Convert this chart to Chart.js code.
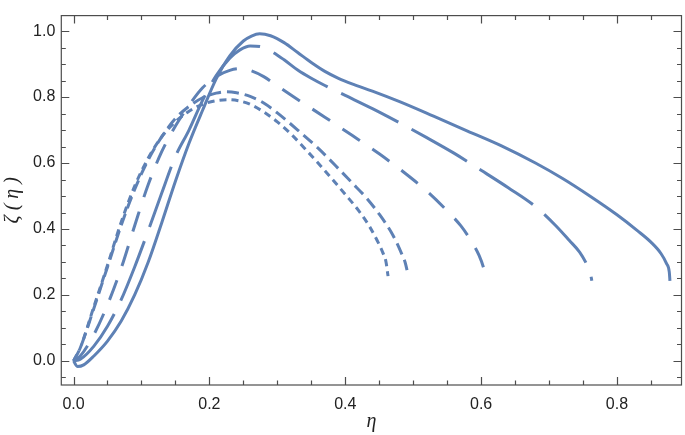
<!DOCTYPE html>
<html>
<head>
<meta charset="utf-8">
<script src="https://cdn.jsdelivr.net/npm/chart.js@4"></script>
<style>
html,body{margin:0;padding:0;background:#fff;}
#c{display:block;}
</style>
</head>
<body>
<canvas id="c" width="685" height="435"></canvas>
<script>
// ---- data ----
const s1x = [0,0.006,0.015,0.03,0.05,0.07,0.09,0.11,0.13,0.15,0.17,0.19,0.21,0.23,0.25,0.262,0.274,0.29,0.31,0.33,0.35,0.37,0.39,0.41,0.44,0.48,0.53,0.58,0.63,0.68,0.72,0.76,0.80,0.83,0.85,0.865,0.873,0.877,0.878];
const s1y = [0,-0.017,-0.012,0.015,0.06,0.12,0.20,0.30,0.42,0.545,0.66,0.76,0.855,0.925,0.97,0.985,0.992,0.986,0.965,0.935,0.905,0.878,0.857,0.840,0.818,0.786,0.742,0.697,0.652,0.600,0.553,0.500,0.443,0.395,0.360,0.325,0.295,0.27,0.243];

const s2x = [0,0.01,0.03,0.05,0.07,0.09,0.11,0.13,0.15,0.17,0.19,0.21,0.23,0.245,0.26,0.275,0.29,0.31,0.33,0.35,0.37,0.40,0.44,0.48,0.52,0.56,0.60,0.64,0.68,0.71,0.73,0.745,0.755,0.761,0.763];
const s2y = [0,0.005,0.045,0.105,0.185,0.285,0.395,0.51,0.62,0.70,0.79,0.865,0.918,0.943,0.955,0.953,0.94,0.913,0.882,0.857,0.835,0.805,0.765,0.722,0.677,0.630,0.578,0.525,0.468,0.41,0.365,0.33,0.295,0.265,0.243];

const s3x = [0,0.01,0.03,0.05,0.07,0.09,0.11,0.13,0.15,0.17,0.19,0.21,0.23,0.245,0.26,0.28,0.30,0.32,0.34,0.37,0.41,0.45,0.49,0.52,0.55,0.57,0.585,0.597,0.604,0.607];
const s3y = [0,0.015,0.08,0.17,0.28,0.41,0.535,0.635,0.712,0.775,0.828,0.862,0.881,0.886,0.881,0.862,0.834,0.806,0.779,0.739,0.684,0.628,0.566,0.515,0.455,0.41,0.365,0.32,0.28,0.254];

const s4x = [0,0.01,0.03,0.05,0.07,0.09,0.11,0.13,0.15,0.17,0.19,0.21,0.225,0.24,0.26,0.28,0.30,0.33,0.36,0.39,0.41,0.43,0.45,0.47,0.482,0.488,0.491];
const s4y = [0,0.04,0.16,0.285,0.41,0.52,0.61,0.68,0.735,0.772,0.798,0.812,0.816,0.813,0.802,0.782,0.752,0.700,0.645,0.583,0.540,0.497,0.445,0.382,0.33,0.30,0.275];

const s5x = [0,0.01,0.03,0.05,0.07,0.09,0.11,0.13,0.15,0.17,0.19,0.21,0.227,0.245,0.26,0.28,0.30,0.32,0.34,0.36,0.38,0.40,0.42,0.435,0.447,0.455,0.46,0.463];
const s5y = [0,0.04,0.165,0.29,0.42,0.53,0.615,0.68,0.725,0.757,0.778,0.789,0.792,0.788,0.778,0.755,0.725,0.688,0.645,0.600,0.553,0.505,0.455,0.41,0.365,0.33,0.30,0.257];

const xMajor = [0,0.2,0.4,0.6,0.8];
const yMajor = [0,0.2,0.4,0.6,0.8,1.0];
const xMinor = [0.05,0.1,0.15,0.25,0.3,0.35,0.45,0.5,0.55,0.65,0.7,0.75,0.85];
const yMinor = [-0.05,0.05,0.1,0.15,0.25,0.3,0.35,0.45,0.5,0.55,0.65,0.7,0.75,0.85,0.9,0.95];

const xTitle = 'η';
const yTitle = 'ζ ( η )';

// ---- chart ----
const blue = '#5E81B5';
const pts = (xs, ys) => xs.map((x, i) => ({x: x, y: ys[i]}));
const dashes = [[], [64, 15], [21, 15], [12, 6], [7, 5]];
const series = [[s1x, s1y], [s2x, s2y], [s3x, s3y], [s4x, s4y], [s5x, s5y]];

const frameTicks = {
  id: 'frameTicks',
  afterDraw(chart) {
    const ctx = chart.ctx, a = chart.chartArea;
    const xs = chart.scales.x, ys = chart.scales.y;
    ctx.save();
    ctx.strokeStyle = '#4d4d4d';
    ctx.lineWidth = 1.2;
    ctx.strokeRect(a.left, a.top, a.right - a.left, a.bottom - a.top);
    ctx.beginPath();
    const tx = (v, len) => {
      const p = Math.round(xs.getPixelForValue(v)) + 0.5;
      ctx.moveTo(p, a.bottom); ctx.lineTo(p, a.bottom - len);
      ctx.moveTo(p, a.top); ctx.lineTo(p, a.top + len);
    };
    const ty = (v, len) => {
      const p = Math.round(ys.getPixelForValue(v)) + 0.5;
      ctx.moveTo(a.left, p); ctx.lineTo(a.left + len, p);
      ctx.moveTo(a.right, p); ctx.lineTo(a.right - len, p);
    };
    xMajor.forEach(v => tx(v, 8));
    xMinor.forEach(v => tx(v, 4.5));
    yMajor.forEach(v => ty(v, 8));
    yMinor.forEach(v => ty(v, 4.5));
    ctx.stroke();
    ctx.restore();
  }
};

new Chart(document.getElementById('c'), {
  type: 'line',
  data: {
    datasets: series.map((s, i) => ({
      data: pts(s[0], s[1]),
      borderColor: blue,
      borderWidth: 3,
      borderDash: dashes[i],
      borderCapStyle: 'butt',
      pointRadius: 0,
      fill: false,
      cubicInterpolationMode: 'monotone'
    }))
  },
  options: {
    responsive: false,
    animation: false,
    events: [],
    layout: {padding: {left: 0, right: 3.5, top: 2, bottom: 0}},
    plugins: {legend: {display: false}, tooltip: {enabled: false}},
    scales: {
      x: {
        type: 'linear', min: -0.018, max: 0.895,
        grid: {display: false, drawTicks: false},
        border: {display: false},
        afterBuildTicks: sc => { sc.ticks = xMajor.map(v => ({value: v})); },
        afterFit: sc => { sc.height = 50; },
        ticks: {
          padding: 10, color: '#222', maxRotation: 0, autoSkip: false,
          font: {family: 'Liberation Sans, Arial, sans-serif', size: 16},
          callback: v => Number(v).toFixed(1)
        },
        title: {display: true, text: xTitle, color: '#222', padding: {top: 0, bottom: 1},
          font: {family: 'Liberation Serif, serif', size: 20, style: 'italic'}}
      },
      y: {
        type: 'linear', min: -0.073, max: 1.047,
        grid: {display: false, drawTicks: false},
        border: {display: false},
        afterBuildTicks: sc => { sc.ticks = yMajor.map(v => ({value: v})); },
        afterFit: sc => { sc.width = 61.3; },
        ticks: {
          padding: 6, color: '#222', autoSkip: false,
          font: {family: 'Liberation Sans, Arial, sans-serif', size: 16},
          callback: v => Number(v).toFixed(1)
        },
        title: {display: true, text: yTitle, color: '#222', padding: {top: 1, bottom: 0},
          font: {family: 'Liberation Serif, serif', size: 20, style: 'italic'}}
      }
    }
  },
  plugins: [frameTicks]
});
</script>
</body>
</html>
